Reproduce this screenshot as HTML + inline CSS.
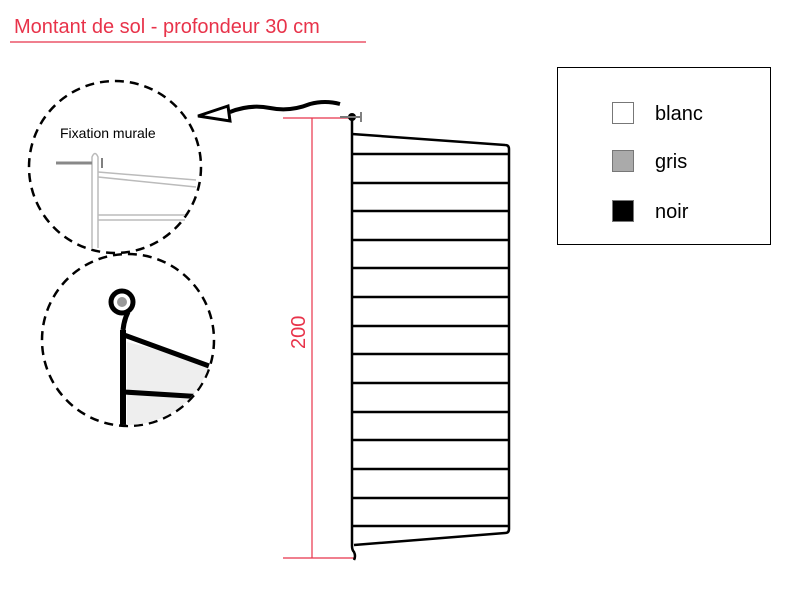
<!DOCTYPE html>
<html><head><style>
body{margin:0;background:#fff;width:800px;height:600px;overflow:hidden;font-family:"Liberation Sans",sans-serif}
</style></head><body>
<svg width="800" height="600" xmlns="http://www.w3.org/2000/svg">
<defs><clipPath id="c2"><circle cx="128" cy="340" r="85"/></clipPath></defs>
<text x="14" y="33" font-size="20" fill="#e8334a" font-family="Liberation Sans">Montant de sol - profondeur 30 cm</text>
<line x1="10" y1="42" x2="366" y2="42" stroke="#e8334a" stroke-width="1.2"/>
<rect x="557.5" y="67.5" width="213" height="177" fill="#fff" stroke="#000" stroke-width="1"/>
<rect x="612.5" y="102.5" width="21" height="21" fill="#fff" stroke="#777"/>
<rect x="612.5" y="150.5" width="21" height="21" fill="#aaa" stroke="#777"/>
<rect x="612.5" y="200.5" width="21" height="21" fill="#000" stroke="#777"/>
<text x="655" y="120" font-size="20">blanc</text>
<text x="655" y="168" font-size="20">gris</text>
<text x="655" y="218" font-size="20">noir</text>
<g stroke="#e8334a" stroke-width="1.2">
<line x1="283" y1="118" x2="352" y2="118"/>
<line x1="312" y1="118" x2="312" y2="558"/>
<line x1="283" y1="558" x2="355" y2="558"/>
</g>
<text transform="translate(305,349) rotate(-90)" font-size="20" fill="#e8334a">200</text>
<g stroke="#000" stroke-width="2.5" fill="none">
<path d="M352 118 L352 546 Q352 550 354 552 Q356 556 354 560"/>
<path d="M352 134 L505 145 Q509 145 509 149 L509 529 Q509 533 505 533 L354 545"/>
<line x1="352" y1="154" x2="509" y2="154"/>
<line x1="352" y1="183" x2="509" y2="183"/>
<line x1="352" y1="211" x2="509" y2="211"/>
<line x1="352" y1="240" x2="509" y2="240"/>
<line x1="352" y1="268" x2="509" y2="268"/>
<line x1="352" y1="297" x2="509" y2="297"/>
<line x1="352" y1="326" x2="509" y2="326"/>
<line x1="352" y1="354" x2="509" y2="354"/>
<line x1="352" y1="383" x2="509" y2="383"/>
<line x1="352" y1="412" x2="509" y2="412"/>
<line x1="352" y1="440" x2="509" y2="440"/>
<line x1="352" y1="469" x2="509" y2="469"/>
<line x1="352" y1="498" x2="509" y2="498"/>
<line x1="352" y1="526" x2="509" y2="526"/>
</g>
<circle cx="352" cy="117" r="4" fill="#000"/>
<line x1="340" y1="117" x2="360" y2="117" stroke="#777" stroke-width="2"/>
<line x1="361" y1="112" x2="361" y2="122" stroke="#555" stroke-width="1.5"/>
<path d="M340 104 Q325 100 310 104 Q290 112 270 108 Q250 104 230 112" stroke="#000" stroke-width="4" fill="none"/>
<path d="M228 106 L198 116 L230 121 Z" fill="#fff" stroke="#000" stroke-width="3"/>
<circle cx="115" cy="167" r="86" fill="none" stroke="#000" stroke-width="2.5" stroke-dasharray="9,6"/>
<circle cx="128" cy="340" r="86" fill="none" stroke="#000" stroke-width="2.5" stroke-dasharray="9,6"/>
<text x="60" y="138" font-size="14">Fixation murale</text>
<g stroke="#bbb" stroke-width="1.5" fill="none">
<path d="M92 248 L92 157 Q95 150 98 157 L98 248"/>
<line x1="98" y1="172" x2="196" y2="180"/>
<line x1="98" y1="177" x2="196" y2="187"/>
<line x1="98" y1="215" x2="185" y2="215"/>
<line x1="98" y1="220" x2="185" y2="220"/>
</g>
<line x1="56" y1="163" x2="92" y2="163" stroke="#888" stroke-width="3"/>
<line x1="102" y1="158" x2="102" y2="168" stroke="#555" stroke-width="1.5"/>
<g clip-path="url(#c2)">
<path d="M127 342 L127 430 L220 430 L220 366 Z" fill="#eee"/>
<path d="M123 430 L123 330" stroke="#000" stroke-width="6" fill="none"/>
<path d="M128 312 Q124 320 123 330" stroke="#000" stroke-width="5" fill="none"/>
<path d="M124 335 L220 370" stroke="#000" stroke-width="5" fill="none"/>
<path d="M124 392 L220 398" stroke="#000" stroke-width="5" fill="none"/>
</g>
<circle cx="122" cy="302" r="11" fill="#fff" stroke="#000" stroke-width="5"/>
<circle cx="122" cy="302" r="5" fill="#999"/>
</svg>
</body></html>
